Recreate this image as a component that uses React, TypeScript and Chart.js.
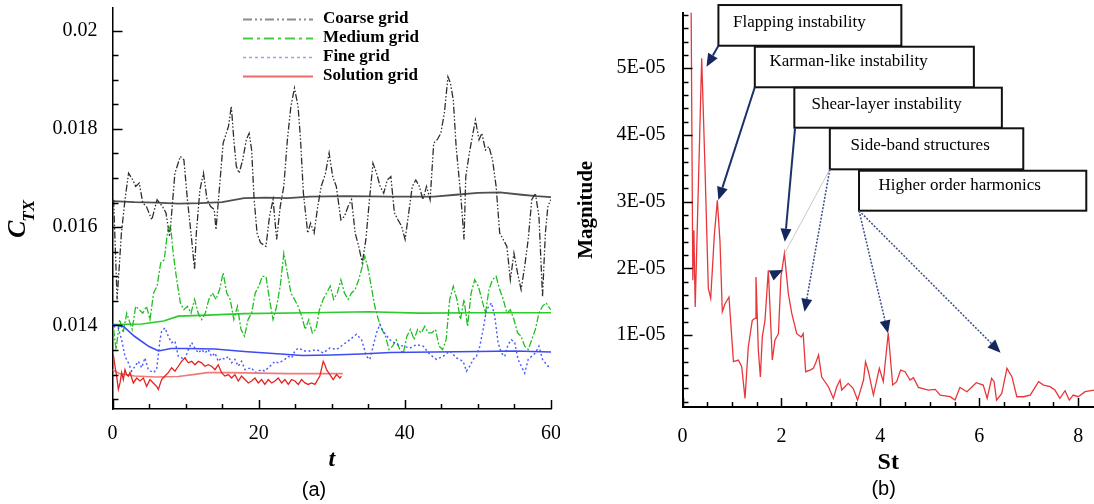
import React, { useEffect, useRef } from "react";
import { Chart, registerables } from "chart.js";
Chart.register(...registerables);

// ---------------- Panel (a) data: C_TX vs t ----------------
const coarseGrid: number[][] = [
  [0.15,0.01656],[0.63,0.01453],[1.22,0.01588],[1.71,0.01656],[2.2,0.0171],[2.78,0.01696],[3.17,0.01683],[3.66,0.0169],
  [4.15,0.01649],[4.64,0.01642],[5.37,0.01615],[6.1,0.01656],[6.84,0.01642],[7.32,0.01629],[7.81,0.01581],[8.06,0.01622],
  [8.54,0.0171],[9.28,0.01744],[9.77,0.01737],[10.25,0.01656],[10.74,0.01588],[11.23,0.01514],[11.47,0.01588],[11.96,0.01676],
  [12.45,0.0171],[12.94,0.01656],[13.43,0.01642],[13.92,0.01636],[14.16,0.01595],[14.65,0.01683],[15.14,0.01771],[15.87,0.01805],
  [16.26,0.01846],[16.6,0.01778],[16.94,0.01724],[17.33,0.0171],[17.82,0.01737],[18.31,0.01778],[18.7,0.01791],[19.04,0.01757],
  [19.38,0.01656],[19.78,0.01588],[20.26,0.01568],[21.0,0.01561],[21.48,0.01622],[21.97,0.01656],[22.46,0.01575],[22.95,0.01642],
  [23.44,0.01683],[23.93,0.01778],[24.41,0.01846],[24.9,0.01883],[25.39,0.01846],[25.73,0.01778],[26.12,0.01669],[26.71,0.01588],
  [27.1,0.01608],[27.59,0.01588],[28.08,0.01642],[28.56,0.01683],[29.15,0.0171],[29.64,0.01751],[30.13,0.01703],[30.62,0.01683],
  [31.25,0.01615],[31.74,0.01622],[32.23,0.01642],[32.71,0.01656],[33.2,0.01588],[33.69,0.01561],[34.18,0.01527],[34.67,0.01575],
  [35.16,0.01656],[35.64,0.0173],[36.13,0.0171],[36.62,0.01683],[37.11,0.01669],[37.6,0.01696],[38.09,0.01703],[38.57,0.01629],
  [39.06,0.01615],[39.55,0.01602],[40.04,0.01575],[40.53,0.01629],[41.02,0.01683],[41.5,0.01696],[41.99,0.01683],[42.48,0.01656],
  [42.97,0.01683],[43.46,0.01656],[43.95,0.01771],[44.43,0.01778],[44.92,0.01791],[45.41,0.01832],[45.9,0.01906],[46.24,0.01893],
  [46.63,0.01859],[47.02,0.01764],[47.36,0.0171],[47.7,0.01656],[48.1,0.01575],[48.34,0.01703],[48.83,0.01751],[49.32,0.01791],
  [49.66,0.01818],[50.15,0.01778],[50.54,0.01791],[51.03,0.01757],[51.51,0.01764],[52.0,0.01737],[52.49,0.01683],[52.98,0.01588],
  [53.47,0.01575],[53.96,0.01561],[54.44,0.01493],[54.93,0.01547],[55.42,0.01507],[55.91,0.01473],[56.4,0.0152],[56.88,0.01575],
  [57.37,0.01656],[57.86,0.01669],[58.35,0.01622],[58.84,0.01459],[59.23,0.01588],[59.57,0.01642],[59.96,0.01656]
];
const coarseGridMean: number[][] = [
  [0,0.01653],[3,0.01651],[6,0.0165],[9,0.01648],[12,0.01649],[15,0.01651],[18,0.01659],[21,0.0166],[24,0.01659],
  [27,0.01662],[32,0.01663],[38,0.01662],[44,0.01662],[47,0.01666],[50,0.0167],[53,0.01671],[56,0.01666],[58,0.01663],[60,0.01661]
];
const mediumGrid: number[][] = [
  [0.15,0.01392],[0.49,0.01351],[0.98,0.01412],[1.46,0.01385],[1.95,0.01425],[2.69,0.01392],[3.17,0.01439],[3.66,0.01432],
  [4.15,0.01425],[4.64,0.01439],[5.13,0.01412],[5.62,0.01466],[6.1,0.0148],[6.59,0.01527],[7.08,0.01534],[7.57,0.01595],
  [7.96,0.01602],[8.3,0.01547],[8.79,0.01493],[9.28,0.01446],[9.77,0.01432],[10.25,0.01439],[10.74,0.01425],[11.23,0.01453],
  [11.72,0.01425],[12.21,0.01412],[12.7,0.01425],[13.18,0.01453],[13.67,0.01466],[14.16,0.01453],[14.65,0.01473],[15.14,0.01507],
  [15.63,0.01466],[16.11,0.01453],[16.6,0.01412],[17.09,0.01439],[17.58,0.01392],[18.07,0.01378],[18.55,0.01412],[19.04,0.01425],
  [19.53,0.01466],[20.02,0.0148],[20.51,0.015],[21.0,0.015],[21.48,0.01453],[21.97,0.01412],[22.46,0.01439],[22.95,0.0148],
  [23.44,0.01547],[23.93,0.01507],[24.41,0.01466],[24.9,0.01453],[25.39,0.01439],[25.88,0.01419],[26.37,0.01392],[26.86,0.01412],
  [27.34,0.01385],[27.83,0.01392],[28.32,0.01432],[28.81,0.01453],[29.3,0.01466],[29.79,0.0148],[30.27,0.01453],[30.76,0.01466],
  [31.25,0.01493],[31.74,0.01466],[32.23,0.01453],[32.71,0.01466],[33.2,0.01473],[33.69,0.01493],[34.18,0.0152],[34.52,0.01541],
  [34.91,0.0152],[35.4,0.0148],[35.89,0.01439],[36.38,0.01412],[36.87,0.01392],[37.35,0.01378],[37.84,0.01351],[38.33,0.01358],
  [38.82,0.01371],[39.31,0.01351],[39.79,0.01344],[40.28,0.01378],[40.77,0.01392],[41.26,0.01371],[41.75,0.01392],[42.24,0.01385],
  [42.72,0.01398],[43.21,0.01385],[43.7,0.01385],[44.19,0.01392],[44.68,0.01358],[45.17,0.01351],[45.65,0.01371],[46.14,0.01453],
  [46.63,0.0148],[47.12,0.01453],[47.61,0.01412],[48.1,0.01453],[48.58,0.01398],[49.07,0.01466],[49.56,0.01493],[50.05,0.0148],
  [50.54,0.01453],[51.03,0.01425],[51.51,0.01473],[52.0,0.01493],[52.49,0.015],[52.98,0.01473],[53.47,0.01453],[53.96,0.01425],
  [54.44,0.01432],[54.93,0.01412],[55.42,0.01385],[55.91,0.01378],[56.4,0.01358],[56.88,0.01351],[57.37,0.01371],[57.86,0.01392],
  [58.35,0.01425],[58.84,0.01439],[59.33,0.01446],[59.96,0.01432]
];
const mediumGridMean: number[][] = [
  [0,0.01402],[4,0.01403],[7,0.01409],[9,0.01419],[13,0.01421],[18,0.01424],[27,0.01426],[35,0.01428],[42,0.01425],[50,0.01426],[60,0.01426]
];
const fineGrid: number[][] = [
  [0.11,0.01398],[0.8,0.01395],[1.25,0.01371],[1.71,0.01337],[2.17,0.01324],[2.62,0.01307],[3.08,0.01317],[3.53,0.01327],
  [3.99,0.01314],[4.44,0.01334],[4.9,0.0131],[5.58,0.01304],[6.04,0.0131],[6.5,0.01371],[6.72,0.01388],[7.18,0.01395],
  [7.63,0.01378],[8.09,0.01365],[8.55,0.01368],[9.0,0.01337],[9.46,0.01334],[9.91,0.01331],[10.37,0.01351],[10.83,0.01365],
  [11.28,0.01354],[11.74,0.01344],[12.2,0.01351],[12.65,0.01344],[13.1,0.01351],[13.56,0.01337],[14.02,0.01344],[14.47,0.01327],
  [14.93,0.01334],[15.38,0.01331],[15.84,0.01337],[16.3,0.01324],[16.75,0.01331],[17.21,0.01317],[17.66,0.01327],[18.12,0.0131],
  [19.03,0.01314],[19.49,0.01304],[19.94,0.01307],[20.4,0.0131],[20.85,0.01307],[21.31,0.01314],[21.77,0.0132],[22.22,0.01327],
  [22.68,0.01324],[23.14,0.01327],[23.59,0.01331],[24.05,0.01337],[24.5,0.01334],[24.96,0.01348],[25.42,0.01354],[25.87,0.01351],
  [26.33,0.01348],[27.0,0.01348],[27.92,0.01351],[28.83,0.01344],[29.74,0.01354],[30.66,0.01351],[31.56,0.01361],[32.48,0.01371],
  [33.39,0.01382],[34.08,0.01371],[34.76,0.01337],[35.21,0.01331],[35.66,0.01358],[36.13,0.01385],[36.58,0.01402],[37.03,0.01388],
  [37.95,0.01371],[38.86,0.01361],[39.77,0.01358],[40.68,0.01354],[41.6,0.01361],[42.5,0.01358],[43.42,0.01341],[44.33,0.01331],
  [45.24,0.01337],[46.15,0.01348],[47.07,0.01334],[47.98,0.01327],[48.43,0.01307],[48.89,0.01317],[49.34,0.01331],[49.8,0.01337],
  [50.26,0.01358],[50.71,0.01392],[51.17,0.01432],[51.85,0.01446],[52.3,0.01419],[52.76,0.01365],[53.22,0.01344],[53.67,0.01337],
  [54.12,0.01361],[54.59,0.01371],[55.04,0.01365],[55.49,0.01331],[56.4,0.01303],[56.88,0.01331],[57.86,0.01344],[58.35,0.01358],
  [58.84,0.01331],[59.57,0.01317],[59.96,0.01317]
];
const fineGridMean: number[][] = [
  [0,0.01402],[1.5,0.01398],[3,0.01378],[5,0.01357],[6.3,0.01348],[8,0.01353],[10,0.01353],[14,0.01352],[18,0.01347],
  [22,0.01343],[26,0.01339],[30,0.0134],[34,0.01342],[38,0.01345],[44,0.01346],[50,0.01347],[55,0.01348],[60,0.01346]
];
const solutionGrid: number[][] = [
  [0.11,0.01341],[0.34,0.01317],[0.57,0.01297],[0.8,0.0127],[1.03,0.01283],[1.25,0.01304],[1.48,0.0129],[1.71,0.0131],
  [1.94,0.013],[2.17,0.01297],[2.39,0.01304],[2.85,0.01283],[3.31,0.01293],[3.76,0.01287],[4.22,0.01293],[4.67,0.01276],
  [5.13,0.0129],[5.58,0.01283],[6.04,0.01276],[6.27,0.0127],[6.72,0.0129],[7.18,0.01297],[7.63,0.01304],[8.09,0.01314],
  [8.55,0.01307],[9.0,0.01317],[9.46,0.01327],[9.91,0.01334],[10.37,0.01324],[10.83,0.01327],[11.28,0.0132],[11.74,0.01327],
  [12.2,0.01324],[12.65,0.01317],[13.1,0.0132],[13.56,0.01317],[14.02,0.0131],[14.47,0.0132],[14.93,0.01304],[15.38,0.01297],
  [15.84,0.013],[16.3,0.01293],[16.75,0.013],[17.21,0.01287],[17.66,0.01297],[18.12,0.0129],[18.58,0.01283],[19.03,0.01287],
  [19.49,0.01293],[19.94,0.01283],[20.4,0.0129],[20.85,0.0128],[21.31,0.0129],[21.77,0.01283],[22.22,0.01287],[22.68,0.01293],
  [23.14,0.01283],[23.59,0.0129],[24.05,0.0128],[24.5,0.0129],[24.96,0.01287],[25.42,0.0128],[25.87,0.0129],[26.33,0.01283],
  [26.79,0.0128],[27.24,0.01283],[27.7,0.0128],[28.37,0.01297],[28.83,0.01327],[29.06,0.0132],[29.29,0.0131],[29.74,0.013],
  [30.2,0.0129],[30.66,0.013],[31.11,0.01293],[31.33,0.01297]
];
const solutionGridMean: number[][] = [
  [0,0.0131],[1,0.01302],[3,0.01297],[6,0.01295],[9,0.01296],[11,0.013],[13,0.01304],[16,0.01304],[20,0.01303],[24,0.01302],[28,0.01302],[31.5,0.01302]
];
const tMajorTicks = [0, 20, 40, 60];
const ctxMajorTicks = [0.014, 0.016, 0.018, 0.02];
const legendLabels = ["Coarse grid", "Medium grid", "Fine grid", "Solution grid"];

// ---------------- Panel (b) data: spectrum ----------------
const spectrum: number[][] = [
  [0.17,6.5e-5],[0.19,4.0e-5],[0.209,1.82e-5],[0.23,2.57e-5],[0.257,1.42e-5],[0.388,5.15e-5],[0.455,3.5e-5],[0.522,1.7e-5],
  [0.57,1.55e-5],[0.644,2.5e-5],[0.704,3.02e-5],[0.758,2.4e-5],[0.805,1.35e-5],[0.86,1.47e-5],[0.94,1.57e-5],[1.03,0.6e-5],
  [1.13,0.625e-5],[1.197,0.525e-5],[1.264,0.05e-5],[1.33,0.82e-5],[1.41,1.22e-5],[1.466,1.25e-5],[1.486,1.87e-5],[1.533,0.775e-5],
  [1.574,0.37e-5],[1.614,0.975e-5],[1.668,1.22e-5],[1.735,1.97e-5],[1.816,0.625e-5],[1.87,0.925e-5],[1.94,1.02e-5],[1.99,1.87e-5],
  [2.06,2.22e-5],[2.14,1.62e-5],[2.21,1.32e-5],[2.31,1.02e-5],[2.4,0.97e-5],[2.44,1.02e-5],[2.49,0.45e-5],[2.58,0.475e-5],
  [2.645,0.5e-5],[2.69,0.575e-5],[2.75,0.7e-5],[2.815,0.37e-5],[2.95,0.225e-5],[3.05,0.05e-5],[3.12,0.225e-5],[3.185,0.325e-5],
  [3.22,0.175e-5],[3.35,0.275e-5],[3.45,0.2e-5],[3.54,0.025e-5],[3.66,0.325e-5],[3.7,0.6e-5],[3.76,0.45e-5],[3.86,0.1e-5],
  [3.98,0.5e-5],[4.06,0.3e-5],[4.16,1.03e-5],[4.25,0.25e-5],[4.33,0.3e-5],[4.41,0.475e-5],[4.5,0.45e-5],[4.6,0.325e-5],
  [4.67,0.36e-5],[4.77,0.215e-5],[4.97,0.175e-5],[5.11,0.185e-5],[5.21,0.1e-5],[5.41,0.075e-5],[5.51,0.025e-5],[5.61,0.215e-5],
  [5.75,0.15e-5],[5.94,0.285e-5],[6.08,0.25e-5],[6.16,0.05e-5],[6.25,0.35e-5],[6.3,0.3e-5],[6.35,0.025e-5],[6.455,0.125e-5],
  [6.56,0.5e-5],[6.66,0.375e-5],[6.76,0.075e-5],[6.89,0.075e-5],[7.03,0.1e-5],[7.2,0.3e-5],[7.3,0.25e-5],[7.43,0.225e-5],
  [7.53,0.175e-5],[7.63,0.05e-5],[7.735,0.165e-5],[7.82,0.025e-5],[7.9,0.1e-5],[8.0,0.075e-5],[8.14,0.15e-5],[8.32,0.175e-5]
];
const stMajorTicks = [0, 2, 4, 6, 8];
const magMajorTicks = [1e-5, 2e-5, 3e-5, 4e-5, 5e-5];
// annotation boxes in data coordinates (St, magnitude)
const annotationLabels = ["Flapping instability", "Karman-like instability", "Shear-layer instability", "Side-band structures", "Higher order harmonics"];
const annotationBoxes = [
  [0.726, 5.947e-5, 4.425, 5.337e-5],
  [1.462, 5.322e-5, 5.891, 4.714e-5],
  [2.261, 4.708e-5, 6.457, 4.108e-5],
  [2.979, 4.099e-5, 6.89, 3.484e-5],
  [3.569, 3.463e-5, 8.164, 2.864e-5]
];
const annotationTextAt = [
  [1.021, 5.682e-5], [1.759, 5.097e-5], [2.607, 4.448e-5], [3.397, 3.838e-5], [3.964, 3.238e-5]
];
const annotationArrows: { from: number[]; to: number[]; style: string }[] = [
  { from: [0.726, 5.337e-5], to: [0.485, 5.022e-5], style: "solid" },
  { from: [1.462, 4.714e-5], to: [0.726, 3.024e-5], style: "solid" },
  { from: [2.275, 4.099e-5], to: [2.069, 2.399e-5], style: "solid" },
  { from: [2.979, 3.484e-5], to: [2.069, 2.229e-5], style: "faint" },
  { from: [1.729, 1.869e-5], to: [2.032, 1.974e-5], style: "head" },
  { from: [2.979, 3.484e-5], to: [2.467, 1.349e-5], style: "dotted" },
  { from: [3.569, 2.864e-5], to: [4.156, 1.025e-5], style: "dotted" },
  { from: [3.569, 2.864e-5], to: [6.431, 0.735e-5], style: "dotted" }
];

// ---------------- helpers ----------------
const SERIF = "'Liberation Serif', 'Times New Roman', serif";
const SANS = "'Liberation Sans', Arial, sans-serif";
const isNear = (v: number, list: number[], eps: number) => list.some((m) => Math.abs(v - m) < eps);
const pts = (arr: number[][]) => arr.map(([x, y]) => ({ x, y }));
const noPad = (s: any) => {
  s.paddingTop = 0;
  s.paddingBottom = 0;
  s.paddingLeft = 0;
  s.paddingRight = 0;
};

function tickMarksPlugin(xMajor: (v: number) => boolean, yMajor: (v: number) => boolean) {
  return {
    id: "tickMarks",
    afterDraw(chart: any) {
      const { ctx, chartArea } = chart;
      const xs = chart.scales.x;
      const ys = chart.scales.y;
      ctx.save();
      ctx.strokeStyle = "#000";
      ctx.lineWidth = 1.5;
      xs.ticks.forEach((t: any) => {
        const px = Math.round(xs.getPixelForValue(t.value)) + 0.5;
        const len = xMajor(t.value) ? 9 : 5;
        ctx.beginPath();
        ctx.moveTo(px, chartArea.bottom);
        ctx.lineTo(px, chartArea.bottom - len);
        ctx.stroke();
      });
      ys.ticks.forEach((t: any) => {
        const py = Math.round(ys.getPixelForValue(t.value)) + 0.5;
        const len = yMajor(t.value) ? 10 : 6;
        ctx.beginPath();
        ctx.moveTo(chartArea.left, py);
        ctx.lineTo(chartArea.left + len, py);
        ctx.stroke();
      });
      ctx.restore();
    }
  };
}

const ctxIsMajor = (v: number) => isNear(v, ctxMajorTicks, 1e-7);
const tIsMajor = (v: number) => isNear(v, tMajorTicks, 1e-6);
const stIsMajor = (v: number) => isNear(v, stMajorTicks, 1e-6);
const magIsMajor = (v: number) => isNear(v, magMajorTicks, 1e-9);

function LeftChart() {
  const ref = useRef<HTMLCanvasElement>(null);
  useEffect(() => {
    const legendStyles = [
      { color: "#8c8c8c", dash: [9, 3, 2, 3, 2, 3], width: 2 },
      { color: "#3fcf3f", dash: [10, 4, 3, 4], width: 2 },
      { color: "#9a9cff", dash: [3, 3], width: 1.5 },
      { color: "#f06a6a", dash: [], width: 2 }
    ];
    const overlay = {
      id: "overlayA",
      afterDraw(chart: any) {
        const { ctx } = chart;
        ctx.save();
        legendLabels.forEach((lab, i) => {
          const y = 19 + i * 19;
          const st = legendStyles[i];
          ctx.strokeStyle = st.color;
          ctx.lineWidth = st.width;
          ctx.setLineDash(st.dash);
          ctx.beginPath();
          ctx.moveTo(243, y + 0.5);
          ctx.lineTo(313, y + 0.5);
          ctx.stroke();
          ctx.setLineDash([]);
          ctx.fillStyle = "#000";
          ctx.font = `bold 17px ${SERIF}`;
          ctx.textBaseline = "middle";
          ctx.textAlign = "left";
          ctx.fillText(lab, 323, y);
        });
        ctx.translate(25, 238);
        ctx.rotate(-Math.PI / 2);
        ctx.textBaseline = "alphabetic";
        ctx.font = `bold italic 26px ${SERIF}`;
        ctx.fillText("C", 0, 0);
        const w = ctx.measureText("C").width;
        ctx.font = `bold italic 17px ${SERIF}`;
        ctx.fillText("TX", w - 1, 9);
        ctx.setTransform(1, 0, 0, 1, 0, 0);
        ctx.font = `20px ${SANS}`;
        ctx.textAlign = "center";
        ctx.textBaseline = "middle";
        ctx.fillText("(a)", 314, 490);
        ctx.restore();
      }
    };
    const line = (data: number[][], color: string, width: number, dash: number[]) => ({
      data: pts(data),
      borderColor: color,
      borderWidth: width,
      borderDash: dash,
      pointRadius: 0,
      tension: 0,
      fill: false
    });
    const chart = new Chart(ref.current as HTMLCanvasElement, {
      type: "line",
      data: {
        datasets: [
          { label: legendLabels[3], ...line(solutionGrid, "#e52222", 1.3, []) },
          line(solutionGridMean, "#f07a7a", 1.6, []),
          { label: legendLabels[2], ...line(fineGrid, "#4656ff", 1.4, [2, 2.5]) },
          line(fineGridMean, "#3d4cf2", 1.6, []),
          { label: legendLabels[1], ...line(mediumGrid, "#1fbf1f", 1.3, [7, 2, 2, 2]) },
          line(mediumGridMean, "#2ccc2c", 1.6, []),
          { label: legendLabels[0], ...line(coarseGrid, "#2e2e2e", 1.3, [7, 2, 1.5, 2, 1.5, 2]) },
          line(coarseGridMean, "#4f4f4f", 1.8, [])
        ] as any
      },
      options: {
        animation: false,
        responsive: false,
        layout: { padding: { top: 8, right: 9, left: 0, bottom: 0 } },
        plugins: { legend: { display: false }, tooltip: { enabled: false } },
        scales: {
          x: {
            type: "linear",
            min: 0,
            max: 60,
            border: { display: true, color: "#000", width: 1.5 },
            grid: { display: false, drawTicks: false },
            ticks: {
              stepSize: 5,
              includeBounds: false,
              autoSkip: false,
              maxRotation: 0,
              padding: 13,
              color: "#000",
              font: { family: SERIF, size: 20 },
              callback: (v: any) => (tIsMajor(Number(v)) ? String(Math.round(Number(v))) : "")
            },
            title: {
              display: true,
              text: "t",
              color: "#000",
              font: { family: SERIF, size: 24, weight: "bold", style: "italic" },
              padding: { top: 0, bottom: 30 }
            },
            afterFit: (s: any) => {
              s.height = 95;
              noPad(s);
            }
          },
          y: {
            type: "linear",
            min: 0.0123,
            max: 0.02046,
            border: { display: true, color: "#000", width: 1.5 },
            grid: { display: false, drawTicks: false },
            ticks: {
              stepSize: 0.0005,
              includeBounds: false,
              autoSkip: false,
              padding: 15,
              color: "#000",
              font: { family: SERIF, size: 20 },
              callback: (v: any) => (ctxIsMajor(Number(v)) ? String(parseFloat(Number(v).toFixed(3))) : "")
            },
            afterFit: (s: any) => {
              s.width = 112.5;
              noPad(s);
            }
          }
        }
      } as any,
      plugins: [tickMarksPlugin(tIsMajor, ctxIsMajor), overlay]
    });
    return () => chart.destroy();
  }, []);
  return <canvas ref={ref} width={560} height={504} style={{ width: 560, height: 504, display: "block" }} />;
}

function RightChart() {
  const ref = useRef<HTMLCanvasElement>(null);
  useEffect(() => {
    const overlay = {
      id: "overlayB",
      afterDraw(chart: any) {
        const { ctx } = chart;
        const xs = chart.scales.x;
        const ys = chart.scales.y;
        const X = (v: number) => xs.getPixelForValue(v);
        const Y = (v: number) => ys.getPixelForValue(v);
        ctx.save();
        annotationBoxes.forEach((b, i) => {
          const x0 = X(b[0]), y0 = Y(b[1]), x1 = X(b[2]), y1 = Y(b[3]);
          ctx.fillStyle = "#fff";
          ctx.fillRect(x0, y0, x1 - x0, y1 - y0);
          ctx.strokeStyle = "#111";
          ctx.lineWidth = 2;
          ctx.strokeRect(x0, y0, x1 - x0, y1 - y0);
          ctx.fillStyle = "#000";
          ctx.font = `17px ${SERIF}`;
          ctx.textAlign = "left";
          ctx.textBaseline = "middle";
          ctx.fillText(annotationLabels[i], X(annotationTextAt[i][0]), Y(annotationTextAt[i][1]));
        });
        annotationArrows.forEach((a) => {
          const fx = X(a.from[0]), fy = Y(a.from[1]), tx = X(a.to[0]), ty = Y(a.to[1]);
          const ang = Math.atan2(ty - fy, tx - fx);
          const hl = 13, hw = 5.5;
          const bx = tx - hl * Math.cos(ang), by = ty - hl * Math.sin(ang);
          if (a.style !== "head") {
            ctx.beginPath();
            if (a.style === "solid") {
              ctx.strokeStyle = "#1c3168";
              ctx.lineWidth = 2;
              ctx.setLineDash([]);
            } else if (a.style === "dotted") {
              ctx.strokeStyle = "#3c4f88";
              ctx.lineWidth = 1.5;
              ctx.setLineDash([2, 1.5]);
            } else {
              ctx.strokeStyle = "#c9c9c9";
              ctx.lineWidth = 1;
              ctx.setLineDash([]);
            }
            ctx.moveTo(fx, fy);
            ctx.lineTo(a.style === "faint" ? tx : bx, a.style === "faint" ? ty : by);
            ctx.stroke();
            ctx.setLineDash([]);
          }
          if (a.style !== "faint") {
            ctx.fillStyle = "#14285e";
            ctx.beginPath();
            ctx.moveTo(tx, ty);
            ctx.lineTo(bx + hw * Math.sin(ang), by - hw * Math.cos(ang));
            ctx.lineTo(bx - hw * Math.sin(ang), by + hw * Math.cos(ang));
            ctx.closePath();
            ctx.fill();
          }
        });
        ctx.fillStyle = "#000";
        ctx.font = `20px ${SANS}`;
        ctx.textAlign = "center";
        ctx.textBaseline = "middle";
        ctx.fillText("(b)", 323.6, 489);
        ctx.restore();
      }
    };
    const chart = new Chart(ref.current as HTMLCanvasElement, {
      type: "line",
      data: {
        datasets: [
          {
            label: "Magnitude",
            data: pts(spectrum),
            borderColor: "#e8363a",
            borderWidth: 1.3,
            pointRadius: 0,
            tension: 0,
            fill: false
          }
        ] as any
      },
      options: {
        animation: false,
        responsive: false,
        layout: { padding: { top: 12.7, right: 0, left: 0, bottom: 0 } },
        plugins: { legend: { display: false }, tooltip: { enabled: false } },
        scales: {
          x: {
            type: "linear",
            min: 0,
            max: 8.32,
            border: { display: true, color: "#000", width: 2 },
            grid: { display: false, drawTicks: false },
            ticks: {
              stepSize: 0.5,
              includeBounds: false,
              autoSkip: false,
              maxRotation: 0,
              padding: 18,
              color: "#000",
              font: { family: SERIF, size: 20 },
              callback: (v: any) => (stIsMajor(Number(v)) ? String(Math.round(Number(v))) : "")
            },
            title: {
              display: true,
              text: "St",
              color: "#000",
              font: { family: SERIF, size: 24, weight: "bold" },
              padding: { top: 0, bottom: 27 }
            },
            afterFit: (s: any) => {
              s.height = 97;
              noPad(s);
            }
          },
          y: {
            type: "linear",
            min: -7.9e-7,
            max: 5.832e-5,
            border: { display: true, color: "#000", width: 2 },
            grid: { display: false, drawTicks: false },
            ticks: {
              stepSize: 2e-6,
              includeBounds: false,
              autoSkip: false,
              padding: 17,
              color: "#000",
              font: { family: SERIF, size: 20 },
              callback: (v: any) => (magIsMajor(Number(v)) ? `${Math.round(Number(v) / 1e-5)}E-05` : "")
            },
            title: {
              display: true,
              text: "Magnitude",
              color: "#000",
              font: { family: SERIF, size: 21, weight: "bold" },
              padding: { top: 14, bottom: 0 }
            },
            afterFit: (s: any) => {
              s.width = 122.5;
              noPad(s);
            }
          }
        }
      } as any,
      plugins: [tickMarksPlugin(stIsMajor, magIsMajor), overlay]
    });
    return () => chart.destroy();
  }, []);
  return <canvas ref={ref} width={534} height={504} style={{ width: 534, height: 504, display: "block" }} />;
}

export default function App() {
  return (
    <div style={{ position: "absolute", left: 0, top: 0, width: 1094, height: 504, background: "#fff", overflow: "hidden" }}>
      <div style={{ position: "absolute", left: 0, top: 0, width: 560, height: 504 }}>
        <LeftChart />
      </div>
      <div style={{ position: "absolute", left: 560, top: 0, width: 534, height: 504 }}>
        <RightChart />
      </div>
    </div>
  );
}
